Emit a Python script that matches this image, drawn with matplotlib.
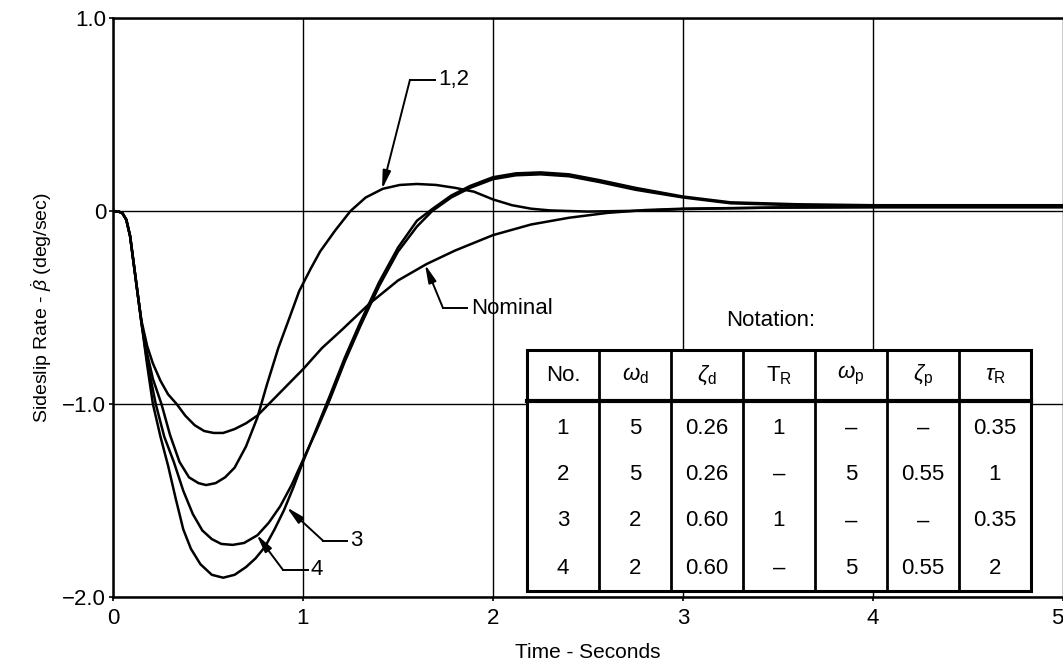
import numpy as np
import matplotlib
matplotlib.use("Agg")
import matplotlib.pyplot as plt
from matplotlib.lines import Line2D
from matplotlib.patches import Rectangle

plt.rcParams["font.family"] = ["Liberation Sans", "DejaVu Sans"]
plt.rcParams["mathtext.fontset"] = "custom"
plt.rcParams["mathtext.rm"] = "Liberation Sans"
plt.rcParams["mathtext.it"] = "Liberation Sans:italic"

# Nominal response
t_nom = [0, 0.03, 0.05, 0.07, 0.09, 0.11, 0.13, 0.15, 0.18, 0.21, 0.25, 0.29,
         0.335, 0.38, 0.43, 0.48, 0.53, 0.58, 0.64, 0.70, 0.76, 0.82, 0.90, 1.0,
         1.1, 1.2, 1.35, 1.5, 1.65, 1.8, 2.0, 2.2, 2.4, 2.6, 2.8, 3.0, 3.5, 4.0,
         4.5, 5.0]
y_nom = [0, -0.003, -0.012, -0.045, -0.13, -0.28, -0.43, -0.57, -0.70, -0.79,
         -0.88, -0.95, -1.0, -1.06, -1.11, -1.14, -1.15, -1.15, -1.13, -1.10,
         -1.06, -1.0, -0.92, -0.82, -0.71, -0.62, -0.48, -0.36, -0.275, -0.205,
         -0.125, -0.07, -0.035, -0.01, 0.005, 0.012, 0.018, 0.02, 0.02, 0.02]

# Cases 1,2 (nearly coincident)
t_12 = [0, 0.03, 0.05, 0.07, 0.09, 0.11, 0.13, 0.15, 0.18, 0.21, 0.255, 0.30,
        0.35, 0.40, 0.45, 0.49, 0.54, 0.59, 0.64, 0.70, 0.76, 0.81, 0.87, 0.93,
        0.98, 1.04, 1.09, 1.17, 1.25, 1.33, 1.42, 1.51, 1.6, 1.7, 1.8, 1.9, 2.0,
        2.1, 2.2, 2.3, 2.5, 2.8, 3.0, 3.5, 4.0, 4.5, 5.0]
y_12 = [0, -0.003, -0.012, -0.045, -0.13, -0.28, -0.43, -0.58, -0.74, -0.87,
        -1.0, -1.16, -1.30, -1.38, -1.41, -1.42, -1.41, -1.38, -1.33, -1.22,
        -1.07, -0.90, -0.71, -0.55, -0.415, -0.30, -0.21, -0.10, 0.0, 0.07,
        0.115, 0.135, 0.14, 0.135, 0.12, 0.10, 0.06, 0.03, 0.012, 0.003,
        -0.003, 0.002, 0.01, 0.018, 0.02, 0.02, 0.02]

# Case labelled 4
t_4 = [0, 0.03, 0.05, 0.07, 0.09, 0.11, 0.13, 0.15, 0.18, 0.225, 0.27, 0.32,
       0.37, 0.42, 0.47, 0.52, 0.57, 0.63, 0.69, 0.76, 0.82, 0.88, 0.94, 1.0,
       1.07, 1.14, 1.22, 1.3, 1.4, 1.5, 1.6, 1.68, 1.78, 1.88, 2.0, 2.12, 2.25,
       2.4, 2.56, 2.75, 3.0, 3.25, 3.6, 4.0, 4.5, 5.0]
y_4 = [0, -0.003, -0.012, -0.045, -0.13, -0.28, -0.43, -0.58, -0.78, -1.0,
       -1.17, -1.30, -1.45, -1.57, -1.655, -1.70, -1.725, -1.73, -1.72, -1.68,
       -1.615, -1.53, -1.42, -1.29, -1.14, -0.98, -0.78, -0.60, -0.39, -0.21,
       -0.08, 0.0, 0.07, 0.12, 0.165, 0.185, 0.19, 0.18, 0.15, 0.11, 0.07,
       0.04, 0.03, 0.025, 0.025, 0.025]

# Case labelled 3
t_3 = [0, 0.03, 0.05, 0.07, 0.09, 0.11, 0.13, 0.15, 0.18, 0.21, 0.25, 0.29,
       0.33, 0.37, 0.41, 0.46, 0.52, 0.58, 0.64, 0.70, 0.75, 0.80, 0.85, 0.90,
       0.95, 1.0, 1.07, 1.14, 1.22, 1.3, 1.4, 1.5, 1.6, 1.68, 1.78, 1.88, 2.0,
       2.12, 2.25, 2.4, 2.56, 2.75, 3.0, 3.25, 3.6, 4.0, 4.5, 5.0]
y_3 = [0, -0.003, -0.012, -0.045, -0.13, -0.28, -0.43, -0.58, -0.80, -1.0,
       -1.17, -1.32, -1.49, -1.65, -1.75, -1.83, -1.885, -1.90, -1.885, -1.845,
       -1.80, -1.74, -1.65, -1.55, -1.43, -1.30, -1.13, -0.96, -0.76, -0.58,
       -0.37, -0.19, -0.05, 0.01, 0.08, 0.13, 0.175, 0.195, 0.2, 0.19, 0.16,
       0.12, 0.075, 0.045, 0.035, 0.03, 0.03, 0.03]

x_ticks = [0, 1, 2, 3, 4, 5]
y_ticks = [1.0, 0, -1.0, -2.0]
y_tick_labels = ["1.0", "0", "\u22121.0", "\u22122.0"]

table_header = [r"No.", r"$\omega_\mathrm{d}$", r"$\zeta_\mathrm{d}$", r"$\mathrm{T_R}$",
                r"$\omega_\mathrm{p}$", r"$\zeta_\mathrm{p}$", r"$\tau_\mathrm{R}$"]
table_rows = [
    ["1", "5", "0.26", "1", "\u2013", "\u2013", "0.35"],
    ["2", "5", "0.26", "\u2013", "5", "0.55", "1"],
    ["3", "2", "0.60", "1", "\u2013", "\u2013", "0.35"],
    ["4", "2", "0.60", "\u2013", "5", "0.55", "2"],
]

W, H = 1063, 667
fig = plt.figure(figsize=(W / 100, H / 100), dpi=100)
ax = fig.add_axes([113 / W, 1 - 597 / H, 1 - 113 / W, (597 - 18) / H])

lw = 1.8
ax.plot(t_nom, y_nom, color="k", lw=lw, zorder=3)
ax.plot(t_12, y_12, color="k", lw=lw, zorder=3)
ax.plot(t_4, y_4, color="k", lw=lw, zorder=3)
ax.plot(t_3, y_3, color="k", lw=lw, zorder=3)

ax.set_xlim(0, 5)
ax.set_ylim(-2.0, 1.0)
ax.set_xticks(x_ticks)
ax.set_yticks(y_ticks)
ax.set_yticklabels(y_tick_labels)
ax.tick_params(labelsize=16, length=3, width=1.2, direction="out")
ax.tick_params(axis="x", pad=5)
ax.tick_params(axis="y", pad=2)
# keep the last tick label inside the picture
ax.get_xticklabels()[-1].set_horizontalalignment("right")
ax.grid(True, color="k", lw=1.0)
ax.set_axisbelow(True)
for s in ["left", "bottom", "top"]:
    ax.spines[s].set_linewidth(1.8)
ax.spines["right"].set_visible(False)

ax.set_xlabel("Time - Seconds", fontsize=15, labelpad=10)
ax.set_ylabel(r"Sideslip Rate - $\dot{\beta}$ (deg/sec)", fontsize=14, labelpad=6)

# curve labels with leader arrows
arrow = dict(arrowstyle="-|>,head_length=0.9,head_width=0.2", lw=1.4, color="k",
             shrinkA=0, shrinkB=0, mutation_scale=12)


def leader(label, tip, elbow, x_end, x_text):
    ax.annotate("", xy=tip, xytext=elbow, arrowprops=arrow, zorder=4)
    ax.plot([elbow[0], x_end], [elbow[1], elbow[1]], color="k", lw=1.4, zorder=4)
    ax.text(x_text, elbow[1], label, fontsize=16, va="center", ha="left")


leader("1,2", (1.416, 0.113), (1.563, 0.68), 1.695, 1.71)
leader("Nominal", (1.642, -0.277), (1.737, -0.503), 1.863, 1.885)
leader("3", (0.914, -1.535), (1.105, -1.708), 1.23, 1.25)
leader("4", (0.756, -1.677), (0.895, -1.86), 1.026, 1.04)


# notation table (figure pixel layout)
def fx(px):
    return px / W


def fy(py):
    return 1 - py / H


fig.text(fx(771), fy(320), "Notation:", fontsize=16, ha="center", va="center")
left, right, top, hdr, bot = 527, 1031, 350, 401, 591
fig.patches.append(Rectangle((fx(left), fy(bot)), fx(right - left), (bot - top) / H,
                             transform=fig.transFigure, facecolor="white",
                             edgecolor="k", lw=2.2, zorder=5))
col_edges = np.linspace(left, right, len(table_header) + 1)
for cx in col_edges[1:-1]:
    fig.lines.append(Line2D([fx(cx), fx(cx)], [fy(top), fy(bot)],
                            transform=fig.transFigure, color="k", lw=2.0, zorder=6))
fig.lines.append(Line2D([fx(left), fx(right)], [fy(hdr), fy(hdr)],
                        transform=fig.transFigure, color="k", lw=3.0, zorder=6))
col_centers = (col_edges[:-1] + col_edges[1:]) / 2
for cx, h in zip(col_centers, table_header):
    fig.text(fx(cx), fy((top + hdr) / 2), h, fontsize=16, ha="center",
             va="center", zorder=7)
row_centers = [428, 474, 521, 568]
for ry, row in zip(row_centers, table_rows):
    for cx, v in zip(col_centers, row):
        fig.text(fx(cx), fy(ry), v, fontsize=16, ha="center", va="center", zorder=7)

fig.savefig("out.png", dpi=100)
